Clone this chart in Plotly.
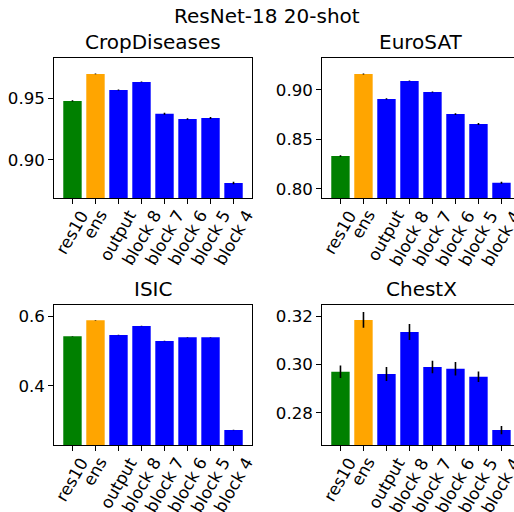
import plotly.graph_objects as go

categories = ["res10", "ens", "output", "block 8", "block 7", "block 6", "block 5", "block 4"]
bar_colors = ["green", "orange", "blue", "blue", "blue", "blue", "blue", "blue"]

titles = ["CropDiseases", "EuroSAT", "ISIC", "ChestX"]
crop_vals = [0.9478, 0.9697, 0.9567, 0.9632, 0.9373, 0.9332, 0.9340, 0.8811]
crop_err = [0.0005, 0.0003, 0.0004, 0.0003, 0.0008, 0.0006, 0.0008, 0.0010]
euro_vals = [0.8331, 0.9162, 0.8909, 0.9091, 0.8980, 0.8755, 0.8655, 0.8060]
euro_err = [0.0007, 0.0005, 0.0006, 0.0004, 0.0005, 0.0008, 0.0011, 0.0010]
isic_vals = [0.5425, 0.5885, 0.5463, 0.5720, 0.5290, 0.5397, 0.5397, 0.2736]
isic_err = [0.0007, 0.0007, 0.0006, 0.0007, 0.0006, 0.0007, 0.0007, 0.0007]
chest_vals = [0.2970, 0.3185, 0.2961, 0.3135, 0.2990, 0.2982, 0.2949, 0.2728]
chest_err = [0.0026, 0.0033, 0.0029, 0.0033, 0.0026, 0.0028, 0.0022, 0.0017]

y_ranges = [[0.869, 0.9824], [0.7906, 0.932], [0.2296, 0.633], [0.2665, 0.3248]]
y_tickvals = [[0.90, 0.95], [0.80, 0.85, 0.90], [0.4, 0.6], [0.28, 0.30, 0.32]]
y_ticktext = [["0.90", "0.95"], ["0.80", "0.85", "0.90"], ["0.4", "0.6"], ["0.28", "0.30", "0.32"]]

W, H = 514, 512
# axes boxes in pixels (left, right, top, bottom)
boxes = [
    (54.3, 251.7, 58.3, 198.0),
    (322.3, 514.0, 58.3, 198.0),
    (54.3, 251.7, 304.7, 445.3),
    (322.3, 514.0, 304.7, 445.3),
]
x_ranges = [[-0.79, 7.79], [-0.79, 7.545], [-0.79, 7.79], [-0.79, 7.545]]

series = [(crop_vals, crop_err), (euro_vals, euro_err), (isic_vals, isic_err), (chest_vals, chest_err)]

FONT = "DejaVu Sans"
fig = go.Figure()
layout = dict(
    width=W, height=H, autosize=False,
    margin=dict(l=0, r=0, t=0, b=0, pad=0, autoexpand=False),
    paper_bgcolor="white", plot_bgcolor="white",
    showlegend=False, bargap=0.2,
    font=dict(family=FONT, color="black", size=16.67),
)
annotations = []
for i, ((vals, errs), box) in enumerate(zip(series, boxes)):
    n = "" if i == 0 else str(i + 1)
    xs = list(range(len(categories)))
    fig.add_trace(go.Bar(
        x=xs, y=vals,
        marker=dict(color=bar_colors, line=dict(width=0)),
        width=0.8,
        error_y=dict(type="data", array=errs, visible=True, color="black", thickness=1.6, width=0),
        xaxis="x" + n, yaxis="y" + n, cliponaxis=True,
    ))
    l, r, t, b = box
    full = r < 513
    layout["xaxis" + n] = dict(
        domain=[l / W, min(r / W, 1.0)], range=x_ranges[i], anchor="y" + n,
        tickvals=xs, showticklabels=False,
        ticks="outside", ticklen=5, tickwidth=1, tickcolor="black",
        showline=True, mirror=True, linecolor="black", linewidth=1,
        showgrid=False, zeroline=False, automargin=False,
    )
    layout["yaxis" + n] = dict(
        domain=[1 - b / H, 1 - t / H], range=y_ranges[i], anchor="x" + n,
        tickvals=y_tickvals[i], ticktext=y_ticktext[i],
        ticks="outside", ticklen=5, tickwidth=1, tickcolor="black",
        showline=True, mirror=full, linecolor="black", linewidth=1,
        showgrid=False, zeroline=False, automargin=False,
        tickfont=dict(size=16.67, family=FONT),
    )
    for xi, cat in zip(xs, categories):
        annotations.append(dict(
            text=cat, x=xi, y=0, xref="x" + n, yref="y" + n + " domain",
            xanchor="center", yanchor="top", yshift=-8, textangle=-60,
            showarrow=False, borderpad=0,
            font=dict(size=16.67, family=FONT, color="black"),
        ))
    cx = (l + (r if full else l + 197.4)) / 2
    annotations.append(dict(
        text=titles[i], x=cx / W, y=1 - t / H, xref="paper", yref="paper",
        xanchor="center", yanchor="bottom", yshift=2, showarrow=False,
        font=dict(size=20, family=FONT, color="black"),
    ))
annotations.append(dict(
    text="ResNet-18 20-shot", x=266.7 / W, y=1.0, xref="paper", yref="paper",
    xanchor="center", yanchor="top", yshift=-2, showarrow=False,
    font=dict(size=20, family=FONT, color="black"),
))
layout["annotations"] = annotations
fig.update_layout(**layout)
fig.write_html(
    "out.html",
    config={"displayModeBar": False},
    post_script="document.body.style.margin='0';document.body.style.overflow='hidden';",
)
